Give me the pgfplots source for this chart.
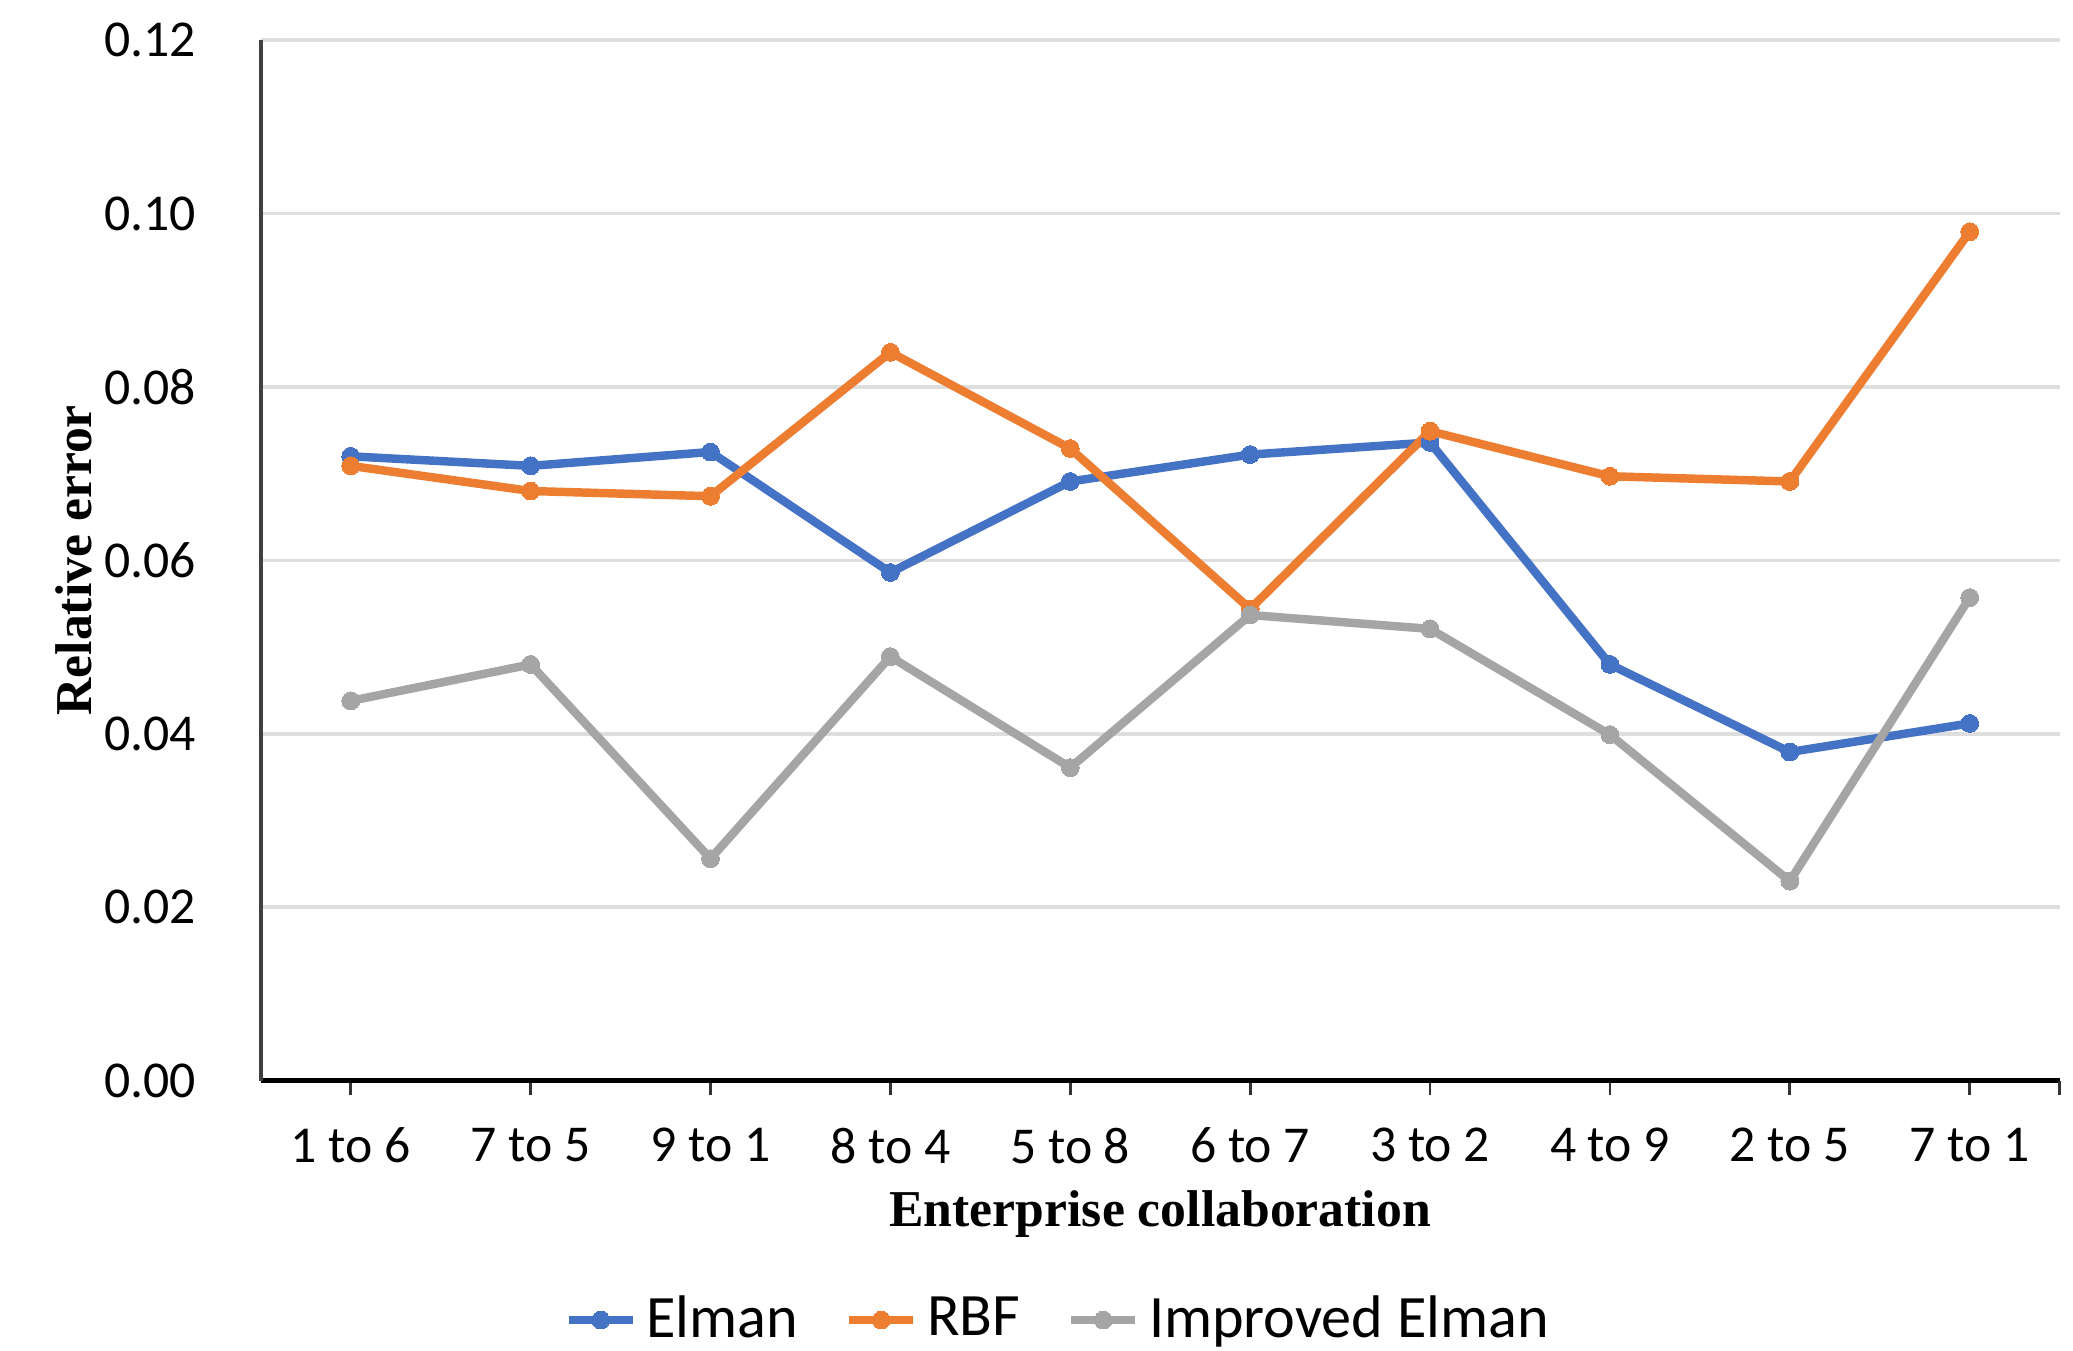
\documentclass[border=0pt]{standalone}
\usepackage{fontspec}
\setmainfont{Carlito}
\newfontfamily\labfont{Liberation Serif}
\usepackage{pgfplots}
\pgfplotsset{compat=1.18}

\definecolor{elman}{HTML}{4472C4}
\definecolor{rbf}{HTML}{ED7D31}
\definecolor{impr}{HTML}{A5A5A5}

\begin{document}
\begin{tikzpicture}
\useasboundingbox (-1.95,-2.02) rectangle (13.55,8.08);
\begin{axis}[
  scale only axis,
  width=13.45cm, height=7.78cm,
  xmin=-0.5, xmax=9.5,
  ymin=0, ymax=0.12,
  axis lines*=left,
  x axis line style={black, line width=1.1pt},
  y axis line style={black!75, line width=0.9pt},
  xtick={0,...,9},
  xticklabels={1 to 6, 7 to 5, 9 to 1, 8 to 4, 5 to 8, 6 to 7, 3 to 2, 4 to 9, 2 to 5, 7 to 1},
  extra x ticks={9.5},
  extra x tick labels={},
  tick align=outside,
  xtick style={black!80, line width=0.6pt},
  major tick length=0.11cm,
  ytick={0,0.02,0.04,0.06,0.08,0.10,0.12},
  ytick style={draw=none},
  yticklabel style={/pgf/number format/fixed, /pgf/number format/fixed zerofill,
    /pgf/number format/precision=2, xshift=-0.25cm},
  /pgf/number format/assume math mode=true,
  tick label style={font=\fontsize{11}{13}\selectfont},
  xticklabel style={yshift=-0.12cm},
  ymajorgrids,
  grid style={draw=black!13, line width=0.8pt},
  xlabel={Enterprise collaboration},
  ylabel={Relative error},
  xlabel style={font=\labfont\bfseries\fontsize{11}{13}\selectfont,
    at={([yshift=-1.0cm]axis description cs:0.5,0)}, anchor=center},
  ylabel style={font=\labfont\bfseries\fontsize{11}{13}\selectfont,
    at={([xshift=-1.40cm]axis description cs:0,0.5)}, anchor=center, rotate=0},
  legend style={at={([yshift=-1.79cm]axis description cs:0.445,0)}, anchor=center,
    draw=none, fill=none, font=\fontsize{12.8}{15}\selectfont,
    /tikz/every even column/.append style={column sep=0.28cm}},
  legend columns=-1,
  legend image code/.code={\draw[mark repeat=2,mark phase=2,#1] plot coordinates {(0cm,0cm)(0.24cm,0cm)(0.48cm,0cm)};},
  every axis plot/.append style={line width=1.8pt, mark=*, mark size=1.9pt},
]
\addplot[color=elman, mark options={fill=elman, draw=elman, line width=0pt}] coordinates {
  (0,0.0720) (1,0.0709) (2,0.0725) (3,0.0586) (4,0.0691)
  (5,0.0722) (6,0.0736) (7,0.0480) (8,0.0379) (9,0.0412)
};
\addlegendentry{Elman}
\addplot[color=rbf, mark options={fill=rbf, draw=rbf, line width=0pt}] coordinates {
  (0,0.0709) (1,0.0680) (2,0.0674) (3,0.0840) (4,0.0729)
  (5,0.0544) (6,0.0749) (7,0.0697) (8,0.0691) (9,0.0979)
};
\addlegendentry{RBF}
\addplot[color=impr, mark options={fill=impr, draw=impr, line width=0pt}] coordinates {
  (0,0.0438) (1,0.0480) (2,0.0256) (3,0.0489) (4,0.0361)
  (5,0.0537) (6,0.0521) (7,0.0399) (8,0.0230) (9,0.0557)
};
\addlegendentry{Improved Elman}
\end{axis}
\end{tikzpicture}
\end{document}
